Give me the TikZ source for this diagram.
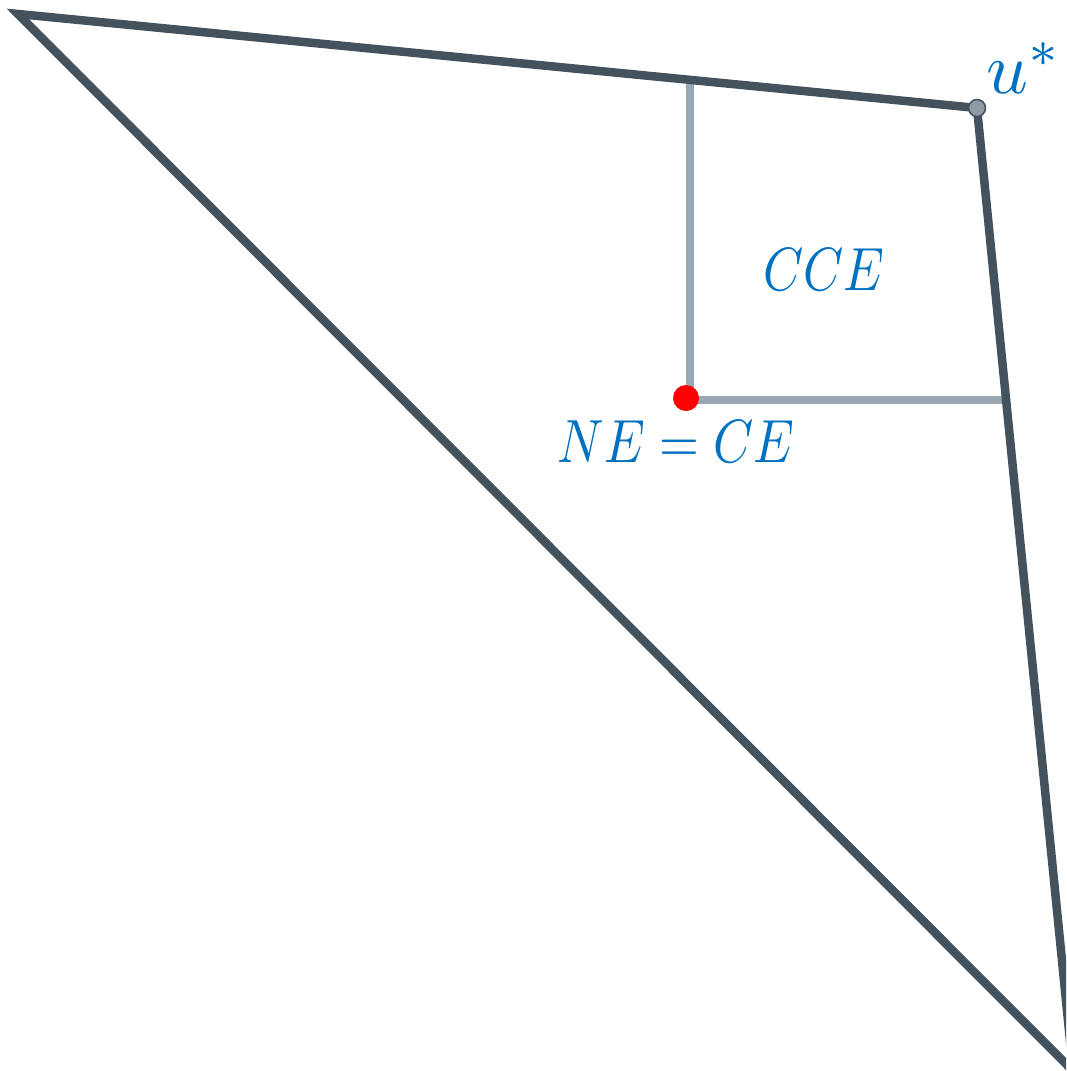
\documentclass[tikz,border=0pt]{standalone}
\definecolor{edgedark}{HTML}{44525E}
\definecolor{edgegray}{HTML}{9AA8B4}
\definecolor{lblblue}{HTML}{0070C0}
\definecolor{dotgray}{HTML}{8E9AA6}
\tikzset{
  darkedge/.style={draw=edgedark, line width=8.5pt, line join=miter},
  grayedge/.style={draw=edgegray, line width=8pt},
  lbl/.style={text=lblblue, inner sep=0pt, scale=6.1},
  narrow/.style={xscale=0.84},
}
\begin{document}
\begin{tikzpicture}[x=1pt,y=-1pt]
\useasboundingbox (0,0) rectangle (1066,1071);
\clip (0,0) rectangle (1066,1071);
% vertices
\coordinate (A) at (18,14);
\coordinate (U) at (977,108);
\coordinate (B) at (1073,1071);
\coordinate (P) at (690,400);
\coordinate (Ptop) at (690,80);
\coordinate (Pright) at (1006,400);
% gray guide lines
\draw[grayedge] (Ptop) -- (P) -- (Pright);
% polygon
\draw[darkedge] (A) -- (U) -- (B) -- cycle;
% points
\node[circle, fill=red, minimum size=26pt, inner sep=0pt] (ne) at (686,398) {};
\node[circle, fill=dotgray, draw=edgedark, line width=1.5pt, minimum size=17pt, inner sep=0pt] (ustar) at (U) {};
% labels
\node[lbl, narrow] (cce) at (824,270) {$CCE$};
\node[lbl, narrow] (nece) at (676,442) {$NE = CE$};
\node[lbl, scale=1.2] (ulbl) at (1024,68) {$u^{*}$};
\end{tikzpicture}
\end{document}
